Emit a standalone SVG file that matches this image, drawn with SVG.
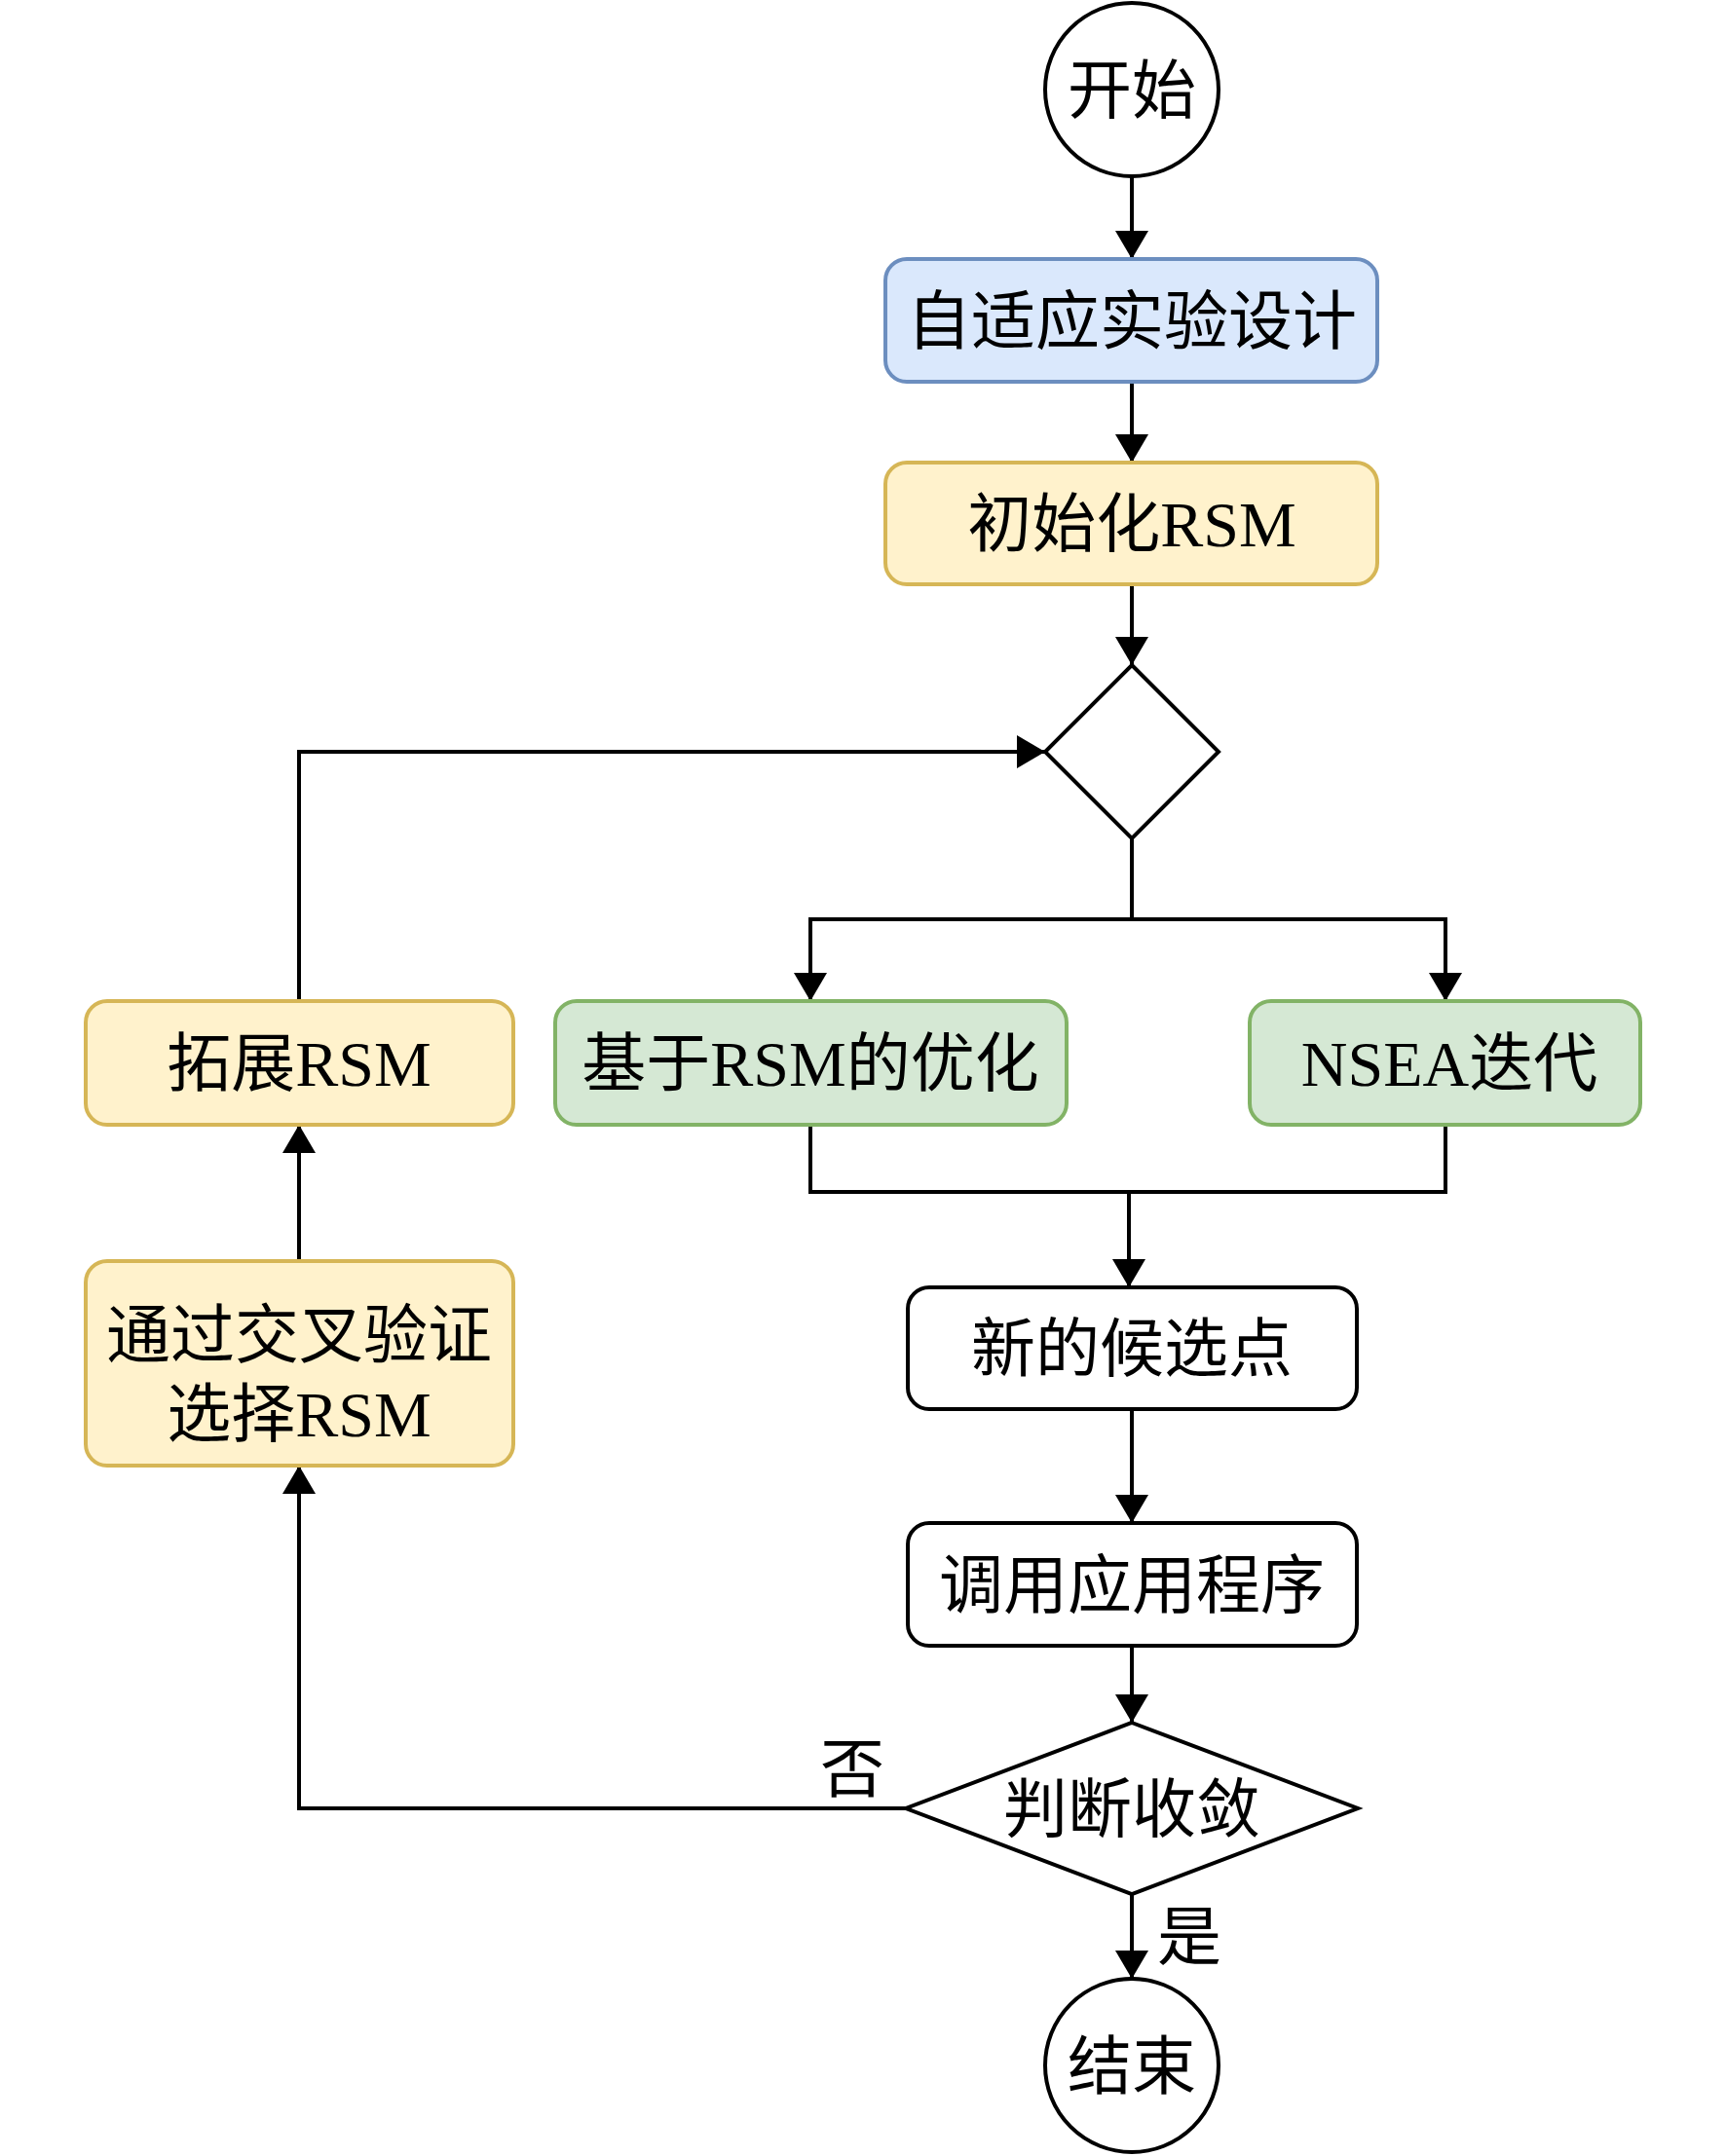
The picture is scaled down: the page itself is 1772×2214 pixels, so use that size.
<svg xmlns="http://www.w3.org/2000/svg" width="1772" height="2214" viewBox="0 0 1772 2214">
<style>
text{font-family:"Liberation Serif","Noto Sans CJK SC",serif;font-size:66px;fill:#000;text-anchor:middle}
.plain{fill:#fff;stroke:#000;stroke-width:4}
.blue{fill:#dae8fc;stroke:#6c8ebf;stroke-width:4}
.yellow{fill:#fff2cc;stroke:#d6b656;stroke-width:4}
.green{fill:#d5e8d4;stroke:#82b366;stroke-width:4}
.edge{fill:none;stroke:#000;stroke-width:4}
.arr{marker-end:url(#ah)}
</style>
<defs>
<marker id="ah" markerUnits="userSpaceOnUse" markerWidth="32" markerHeight="36" refX="29" refY="17" orient="auto">
<path d="M0,0 L29,17 L0,34 Z" fill="#000"/>
</marker>
</defs>
<rect width="1772" height="2214" fill="#fff"/>
<g id="connectors">
<path class="edge arr" d="M1162,181 V266"/>
<path class="edge arr" d="M1162,392 V475"/>
<path class="edge arr" d="M1162,600 V683"/>
<path class="edge arr" d="M1162,861 V944 H832 V1028"/>
<path class="edge arr" d="M1162,944 H1484 V1028"/>
<path class="edge arr" d="M832,1155 V1224 H1159 V1322"/>
<path class="edge" d="M1484,1155 V1224 H1159"/>
<path class="edge arr" d="M1162,1447 V1564"/>
<path class="edge arr" d="M1162,1690 V1769"/>
<path class="edge arr" d="M1162,1945 V2032"/>
<path class="edge arr" d="M930,1857 H307 V1505"/>
<path class="edge arr" d="M307,1295 V1155"/>
<path class="edge arr" d="M307,1028 V772 H1073"/>
<text x="875" y="1840">否</text>
<text x="1221" y="2012">是</text>
</g>
<g id="start">
<circle class="plain" cx="1162" cy="92" r="89"/>
<text x="1162" y="116">开始</text>
</g>
<g id="doe">
<rect class="blue" x="909" y="266" width="505" height="126" rx="22"/>
<text x="1162" y="353">自适应实验设计</text>
</g>
<g id="init">
<rect class="yellow" x="909" y="475" width="505" height="125" rx="22"/>
<text x="1162" y="561">初始化RSM</text>
</g>
<g id="merge">
<polygon class="plain" points="1162,683 1251,772 1162,861 1073,772"/>
</g>
<g id="rsmopt">
<rect class="green" x="570" y="1028" width="525" height="127" rx="22"/>
<text x="832" y="1115">基于RSM的优化</text>
</g>
<g id="nsea">
<rect class="green" x="1283" y="1028" width="401" height="127" rx="22"/>
<text x="1488" y="1115">NSEA迭代</text>
</g>
<g id="extend">
<rect class="yellow" x="88" y="1028" width="439" height="127" rx="22"/>
<text x="307" y="1115">拓展RSM</text>
</g>
<g id="select">
<rect class="yellow" x="88" y="1295" width="439" height="210" rx="22"/>
<text x="307" y="1394">通过交叉验证</text>
<text x="307" y="1475">选择RSM</text>
</g>
<g id="candidate">
<rect class="plain" x="932" y="1322" width="461" height="125" rx="22"/>
<text x="1162" y="1408">新的候选点</text>
</g>
<g id="call">
<rect class="plain" x="932" y="1564" width="461" height="126" rx="22"/>
<text x="1162" y="1651">调用应用程序</text>
</g>
<g id="converge">
<polygon class="plain" points="1162,1769 1394,1857 1162,1945 930,1857"/>
<text x="1162" y="1881">判断收敛</text>
</g>
<g id="end">
<circle class="plain" cx="1162" cy="2121" r="89"/>
<text x="1162" y="2145">结束</text>
</g>
</svg>
